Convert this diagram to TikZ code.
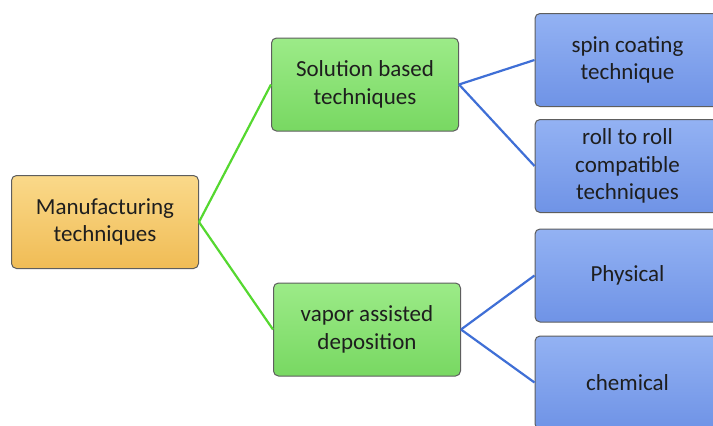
\documentclass[tikz,border=0pt]{standalone}
\usepackage{fontspec}
\setmainfont{Carlito}
\definecolor{txt}{HTML}{1E1E1E}
\definecolor{edgegray}{HTML}{5E5E5E}
\definecolor{orTop}{HTML}{FAD98A}
\definecolor{orBot}{HTML}{F0BC55}
\definecolor{grTop}{HTML}{9CEB88}
\definecolor{grBot}{HTML}{78D862}
\definecolor{blTop}{HTML}{93B2F3}
\definecolor{blBot}{HTML}{6F93E6}
\definecolor{glink}{HTML}{55D830}
\definecolor{blink}{HTML}{3F6FD6}
\tikzset{
  boxbase/.style={rectangle, rounded corners=5pt, draw=edgegray, line width=1pt,
    align=center, text=txt, font=\fontsize{23}{27.5}\selectfont, inner sep=2pt},
  rootbox/.style={boxbase, top color=orTop, bottom color=orBot, minimum width=187pt, minimum height=93pt},
  midbox/.style={boxbase, top color=grTop, bottom color=grBot, minimum width=187pt, minimum height=93pt},
  leafbox/.style={boxbase, top color=blTop, bottom color=blBot, minimum width=185pt, minimum height=93pt},
  glinkstyle/.style={draw=glink, line width=2.2pt},
  blinkstyle/.style={draw=blink, line width=2.2pt}
}
\begin{document}
\begin{tikzpicture}[x=1pt,y=-1pt]
\useasboundingbox (0,0) rectangle (713,426);
\clip (0,0) rectangle (713,426);
\fill[white] (0,0) rectangle (713,426);
\node[rootbox] (m) at (105,222) {Manufacturing\\techniques};
\node[midbox] (s) at (365,84.5) {Solution based\\techniques};
\node[midbox] (v) at (367,329.5) {vapor assisted\\deposition};
\node[leafbox] (b1) at (627.5,60) {spin coating\\technique};
\node[leafbox] (b2) at (627.5,166) {roll to roll\\compatible\\techniques};
\node[leafbox] (b3) at (627.5,275.5) {Physical};
\node[leafbox] (b4) at (627.5,382.5) {chemical};
\draw[glinkstyle] (m.east) -- (s.west);
\draw[glinkstyle] (m.east) -- (v.west);
\draw[blinkstyle] (s.east) -- (b1.west);
\draw[blinkstyle] (s.east) -- (b2.west);
\draw[blinkstyle] (v.east) -- (b3.west);
\draw[blinkstyle] (v.east) -- (b4.west);
\end{tikzpicture}
\end{document}
